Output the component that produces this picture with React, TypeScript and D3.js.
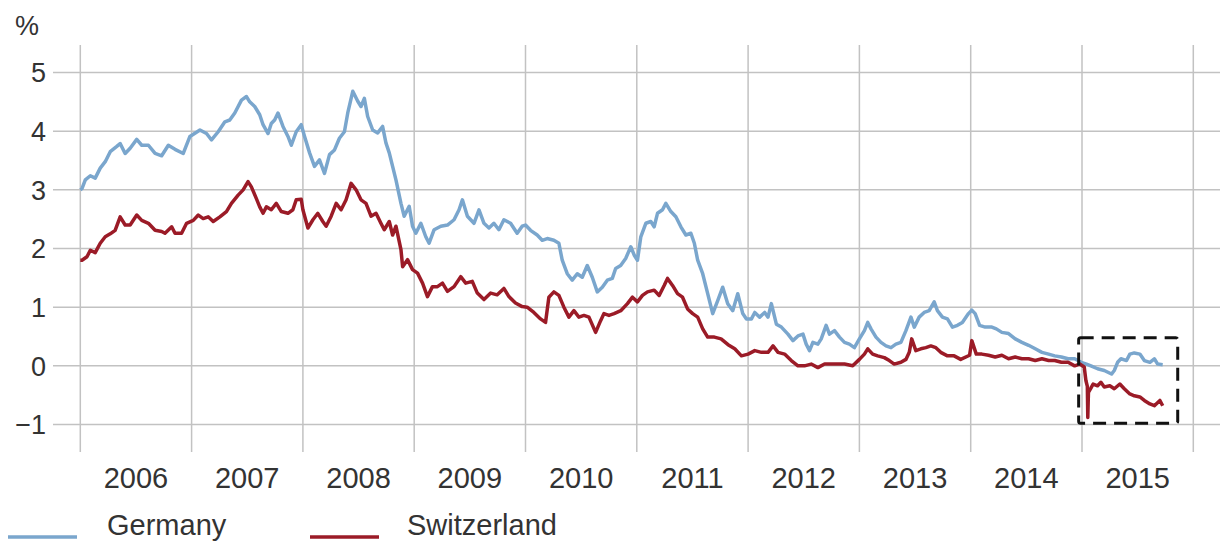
import React from "react";
import * as d3 from "d3";

// 10-year government bond yields, [decimal year, % yield]
const germany: [number, number][] = [
  [2006.0, 3.0], [2006.015, 3.02], [2006.045, 3.17], [2006.09, 3.24], [2006.134, 3.2], [2006.179, 3.37],
  [2006.224, 3.48], [2006.269, 3.65], [2006.328, 3.74], [2006.358, 3.79], [2006.403, 3.62], [2006.448, 3.71],
  [2006.507, 3.86], [2006.552, 3.76], [2006.612, 3.76], [2006.672, 3.62], [2006.731, 3.58], [2006.791, 3.76],
  [2006.851, 3.69], [2006.925, 3.62], [2006.985, 3.91], [2007.075, 4.02], [2007.134, 3.96], [2007.179, 3.85],
  [2007.239, 3.99], [2007.299, 4.16], [2007.343, 4.19], [2007.388, 4.31], [2007.448, 4.53], [2007.493, 4.59],
  [2007.522, 4.5], [2007.567, 4.42], [2007.612, 4.28], [2007.642, 4.11], [2007.687, 3.96], [2007.716, 4.13],
  [2007.746, 4.19], [2007.776, 4.31], [2007.821, 4.08], [2007.866, 3.91], [2007.896, 3.76], [2007.94, 3.99],
  [2007.985, 4.11], [2008.015, 3.91], [2008.06, 3.63], [2008.104, 3.4], [2008.149, 3.51], [2008.194, 3.28],
  [2008.239, 3.6], [2008.284, 3.68], [2008.328, 3.88], [2008.373, 3.99], [2008.403, 4.31], [2008.448, 4.68],
  [2008.493, 4.51], [2008.522, 4.42], [2008.552, 4.56], [2008.582, 4.25], [2008.627, 4.02], [2008.672, 3.97],
  [2008.716, 4.08], [2008.746, 3.8], [2008.776, 3.63], [2008.806, 3.4], [2008.836, 3.17], [2008.881, 2.77],
  [2008.91, 2.55], [2008.955, 2.72], [2008.985, 2.38], [2009.015, 2.26], [2009.06, 2.43], [2009.104, 2.2],
  [2009.134, 2.09], [2009.179, 2.32], [2009.239, 2.38], [2009.299, 2.4], [2009.358, 2.49], [2009.403, 2.66],
  [2009.433, 2.83], [2009.478, 2.55], [2009.537, 2.43], [2009.582, 2.66], [2009.627, 2.43], [2009.672, 2.35],
  [2009.716, 2.43], [2009.761, 2.32], [2009.806, 2.49], [2009.866, 2.43], [2009.925, 2.26], [2009.97, 2.38],
  [2010.0, 2.4], [2010.045, 2.31], [2010.105, 2.23], [2010.15, 2.14], [2010.195, 2.17], [2010.255, 2.14],
  [2010.3, 2.09], [2010.33, 1.8], [2010.375, 1.57], [2010.42, 1.46], [2010.465, 1.57], [2010.51, 1.51],
  [2010.555, 1.71], [2010.6, 1.51], [2010.645, 1.26], [2010.69, 1.34], [2010.735, 1.46], [2010.78, 1.49],
  [2010.81, 1.66], [2010.855, 1.71], [2010.9, 1.83], [2010.946, 2.03], [2010.976, 1.89], [2011.006, 1.8],
  [2011.036, 2.2], [2011.081, 2.43], [2011.126, 2.46], [2011.156, 2.37], [2011.186, 2.6], [2011.231, 2.66],
  [2011.261, 2.77], [2011.306, 2.63], [2011.351, 2.54], [2011.396, 2.37], [2011.441, 2.23], [2011.486, 2.26],
  [2011.517, 2.09], [2011.547, 1.8], [2011.592, 1.57], [2011.637, 1.23], [2011.682, 0.89], [2011.727, 1.11],
  [2011.772, 1.34], [2011.817, 1.06], [2011.862, 0.94], [2011.907, 1.23], [2011.952, 0.89], [2011.985, 0.8],
  [2012.03, 0.8], [2012.06, 0.91], [2012.104, 0.83], [2012.149, 0.91], [2012.179, 0.83], [2012.209, 1.06],
  [2012.254, 0.71], [2012.299, 0.66], [2012.358, 0.54], [2012.403, 0.43], [2012.448, 0.51], [2012.493, 0.54],
  [2012.522, 0.37], [2012.552, 0.26], [2012.582, 0.4], [2012.627, 0.37], [2012.657, 0.46], [2012.701, 0.69],
  [2012.731, 0.54], [2012.776, 0.6], [2012.821, 0.49], [2012.866, 0.4], [2012.91, 0.37], [2012.955, 0.31],
  [2013.0, 0.46], [2013.045, 0.6], [2013.075, 0.74], [2013.104, 0.63], [2013.149, 0.49], [2013.194, 0.4],
  [2013.239, 0.34], [2013.284, 0.31], [2013.328, 0.37], [2013.373, 0.4], [2013.418, 0.6], [2013.463, 0.83],
  [2013.493, 0.66], [2013.537, 0.83], [2013.582, 0.91], [2013.627, 0.94], [2013.672, 1.09], [2013.701, 0.94],
  [2013.746, 0.83], [2013.791, 0.8], [2013.836, 0.66], [2013.881, 0.69], [2013.925, 0.74], [2013.98, 0.89],
  [2014.01, 0.95], [2014.04, 0.89], [2014.08, 0.69], [2014.13, 0.66], [2014.19, 0.66], [2014.23, 0.63],
  [2014.28, 0.57], [2014.34, 0.55], [2014.4, 0.46], [2014.46, 0.4], [2014.52, 0.35], [2014.58, 0.29],
  [2014.64, 0.23], [2014.7, 0.2], [2014.755, 0.17], [2014.815, 0.15], [2014.875, 0.12], [2014.934, 0.12],
  [2014.994, 0.06], [2015.04, 0.03], [2015.08, 0.0], [2015.14, -0.05], [2015.2, -0.08], [2015.265, -0.14],
  [2015.29, -0.08], [2015.32, 0.06], [2015.35, 0.12], [2015.4, 0.09], [2015.43, 0.2], [2015.47, 0.22],
  [2015.52, 0.2], [2015.56, 0.09], [2015.61, 0.06], [2015.65, 0.12], [2015.68, 0.03], [2015.725, 0.02],
];

const switzerland: [number, number][] = [
  [2006.0, 1.8], [2006.015, 1.8], [2006.06, 1.86], [2006.09, 1.97], [2006.134, 1.93], [2006.179, 2.09],
  [2006.224, 2.2], [2006.269, 2.25], [2006.313, 2.31], [2006.358, 2.54], [2006.403, 2.4], [2006.448, 2.4],
  [2006.507, 2.57], [2006.552, 2.48], [2006.612, 2.43], [2006.672, 2.31], [2006.731, 2.29], [2006.761, 2.26],
  [2006.821, 2.37], [2006.851, 2.26], [2006.91, 2.26], [2006.955, 2.43], [2007.015, 2.48], [2007.06, 2.57],
  [2007.104, 2.51], [2007.149, 2.54], [2007.194, 2.46], [2007.254, 2.54], [2007.313, 2.63], [2007.358, 2.77],
  [2007.418, 2.91], [2007.463, 3.0], [2007.507, 3.14], [2007.537, 3.05], [2007.582, 2.85], [2007.612, 2.71],
  [2007.642, 2.6], [2007.672, 2.71], [2007.716, 2.66], [2007.761, 2.77], [2007.806, 2.63], [2007.866, 2.6],
  [2007.91, 2.66], [2007.94, 2.83], [2007.985, 2.84], [2008.0, 2.66], [2008.045, 2.35], [2008.09, 2.49],
  [2008.134, 2.6], [2008.179, 2.46], [2008.209, 2.38], [2008.254, 2.55], [2008.299, 2.77], [2008.343, 2.66],
  [2008.388, 2.83], [2008.433, 3.11], [2008.478, 3.0], [2008.522, 2.83], [2008.567, 2.77], [2008.612, 2.55],
  [2008.657, 2.6], [2008.701, 2.43], [2008.731, 2.32], [2008.776, 2.46], [2008.806, 2.23], [2008.836, 2.38],
  [2008.881, 1.98], [2008.896, 1.69], [2008.94, 1.81], [2008.985, 1.64], [2009.03, 1.58], [2009.075, 1.41],
  [2009.119, 1.18], [2009.164, 1.35], [2009.209, 1.35], [2009.254, 1.41], [2009.299, 1.27], [2009.358, 1.35],
  [2009.418, 1.52], [2009.463, 1.41], [2009.522, 1.44], [2009.567, 1.24], [2009.627, 1.13], [2009.687, 1.24],
  [2009.746, 1.21], [2009.806, 1.32], [2009.851, 1.18], [2009.91, 1.07], [2009.97, 1.01], [2010.015, 1.0],
  [2010.075, 0.91], [2010.135, 0.8], [2010.18, 0.74], [2010.21, 1.17], [2010.255, 1.26], [2010.3, 1.2],
  [2010.345, 1.0], [2010.39, 0.83], [2010.435, 0.94], [2010.48, 0.83], [2010.525, 0.86], [2010.57, 0.83],
  [2010.63, 0.57], [2010.675, 0.77], [2010.705, 0.89], [2010.75, 0.86], [2010.796, 0.89], [2010.856, 0.94],
  [2010.916, 1.06], [2010.961, 1.17], [2011.006, 1.09], [2011.051, 1.2], [2011.096, 1.26], [2011.156, 1.29],
  [2011.201, 1.2], [2011.246, 1.37], [2011.276, 1.49], [2011.321, 1.37], [2011.366, 1.23], [2011.411, 1.17],
  [2011.456, 0.97], [2011.502, 0.89], [2011.547, 0.83], [2011.592, 0.63], [2011.637, 0.49], [2011.697, 0.49],
  [2011.757, 0.46], [2011.82, 0.36], [2011.88, 0.29], [2011.94, 0.17], [2012.0, 0.2], [2012.06, 0.26],
  [2012.12, 0.23], [2012.179, 0.23], [2012.224, 0.34], [2012.269, 0.23], [2012.328, 0.2], [2012.388, 0.09],
  [2012.448, 0.0], [2012.507, 0.0], [2012.567, 0.03], [2012.627, -0.03], [2012.687, 0.03], [2012.746, 0.03],
  [2012.806, 0.03], [2012.866, 0.03], [2012.94, 0.0], [2013.0, 0.11], [2013.045, 0.2], [2013.075, 0.29],
  [2013.119, 0.2], [2013.164, 0.17], [2013.224, 0.14], [2013.269, 0.09], [2013.313, 0.03], [2013.373, 0.06],
  [2013.418, 0.11], [2013.448, 0.23], [2013.47, 0.46], [2013.507, 0.26], [2013.552, 0.29], [2013.597, 0.31],
  [2013.642, 0.34], [2013.687, 0.31], [2013.731, 0.23], [2013.791, 0.17], [2013.851, 0.17], [2013.91, 0.11],
  [2013.99, 0.18], [2014.01, 0.43], [2014.05, 0.2], [2014.1, 0.2], [2014.16, 0.18], [2014.22, 0.15],
  [2014.28, 0.18], [2014.34, 0.12], [2014.4, 0.15], [2014.46, 0.12], [2014.52, 0.12], [2014.58, 0.09],
  [2014.64, 0.12], [2014.7, 0.09], [2014.755, 0.09], [2014.815, 0.06], [2014.875, 0.06], [2014.934, 0.0],
  [2014.98, 0.03], [2015.02, -0.02], [2015.035, -0.25], [2015.048, -0.35], [2015.052, -0.88], [2015.058, -0.45],
  [2015.08, -0.38], [2015.1, -0.31], [2015.14, -0.34], [2015.17, -0.28], [2015.2, -0.36], [2015.25, -0.34],
  [2015.29, -0.39], [2015.34, -0.31], [2015.38, -0.39], [2015.43, -0.48], [2015.47, -0.51], [2015.52, -0.53],
  [2015.56, -0.59], [2015.61, -0.65], [2015.65, -0.68], [2015.7, -0.59], [2015.725, -0.68],
];

const years = [2006, 2007, 2008, 2009, 2010, 2011, 2012, 2013, 2014, 2015];
const yTicks = [-1, 0, 1, 2, 3, 4, 5];

// Highlighted period of negative Swiss yields
const highlight = { start: 2014.97, end: 2015.86, top: 0.48, bottom: -0.98 };

const series = [
  { name: "Germany", data: germany, color: "#7aa6cd" },
  { name: "Switzerland", data: switzerland, color: "#9b1b27" },
];

const W = 1224;
const H = 551;
const FONT = "'Liberation Sans', Arial, sans-serif";
const TEXT = "#333333";
const GRID = "#c2c2c2";

export default function App() {
  const x = d3.scaleLinear().domain([2006, 2016]).range([80.3, 1193.3]);
  const y = d3.scaleLinear().domain([-1, 5]).range([424.5, 72.5]);
  const line = d3
    .line<[number, number]>()
    .x((d) => x(d[0]))
    .y((d) => y(d[1]));

  const gridLeft = 53;
  const gridRight = 1220;
  const gridTop = 45;
  const gridBottom = 452;

  return (
    <div style={{ position: "absolute", left: 0, top: 0 }}>
      <svg width={W} height={H} style={{ display: "block", background: "#fff" }} fontFamily={FONT}>
        {/* horizontal grid */}
        {yTicks.map((t) => (
          <line key={"h" + t} x1={gridLeft} x2={gridRight} y1={y(t)} y2={y(t)} stroke={GRID} strokeWidth={1.5} />
        ))}
        {/* vertical grid at year boundaries */}
        {[...years, 2016].map((yr) => (
          <line key={"v" + yr} x1={x(yr)} x2={x(yr)} y1={gridTop} y2={gridBottom} stroke={GRID} strokeWidth={1.5} />
        ))}
        {/* y tick labels */}
        {yTicks.map((t) => (
          <text key={"yl" + t} x={46} y={y(t)} dy="0.36em" textAnchor="end" fontSize={27} fill={TEXT}>
            {t < 0 ? "\u2212" + Math.abs(t) : String(t)}
          </text>
        ))}
        <text x={15} y={35} fontSize={27} fill={TEXT}>%</text>
        {/* x labels centered in each year */}
        {years.map((yr) => (
          <text key={"xl" + yr} x={x(yr + 0.5)} y={488} textAnchor="middle" fontSize={29} fill={TEXT}>
            {yr}
          </text>
        ))}
        {/* series */}
        {series.map((s) => (
          <path key={s.name} d={line(s.data) ?? ""} fill="none" stroke={s.color} strokeWidth={3.5} strokeLinejoin="round" />
        ))}
        {/* highlight box */}
        <rect
          x={x(highlight.start)}
          y={y(highlight.top)}
          width={x(highlight.end) - x(highlight.start)}
          height={y(highlight.bottom) - y(highlight.top)}
          fill="none"
          stroke="#111"
          strokeWidth={3}
          strokeDasharray="13 8"
          rx={2}
        />
        {/* legend */}
        <line x1={8} x2={77} y1={537} y2={537} stroke={series[0].color} strokeWidth={3.5} />
        <text x={107} y={535} fontSize={29} fill={TEXT}>{series[0].name}</text>
        <line x1={310} x2={379} y1={537} y2={537} stroke={series[1].color} strokeWidth={3.5} />
        <text x={407} y={535} fontSize={29} fill={TEXT}>{series[1].name}</text>
      </svg>
    </div>
  );
}
